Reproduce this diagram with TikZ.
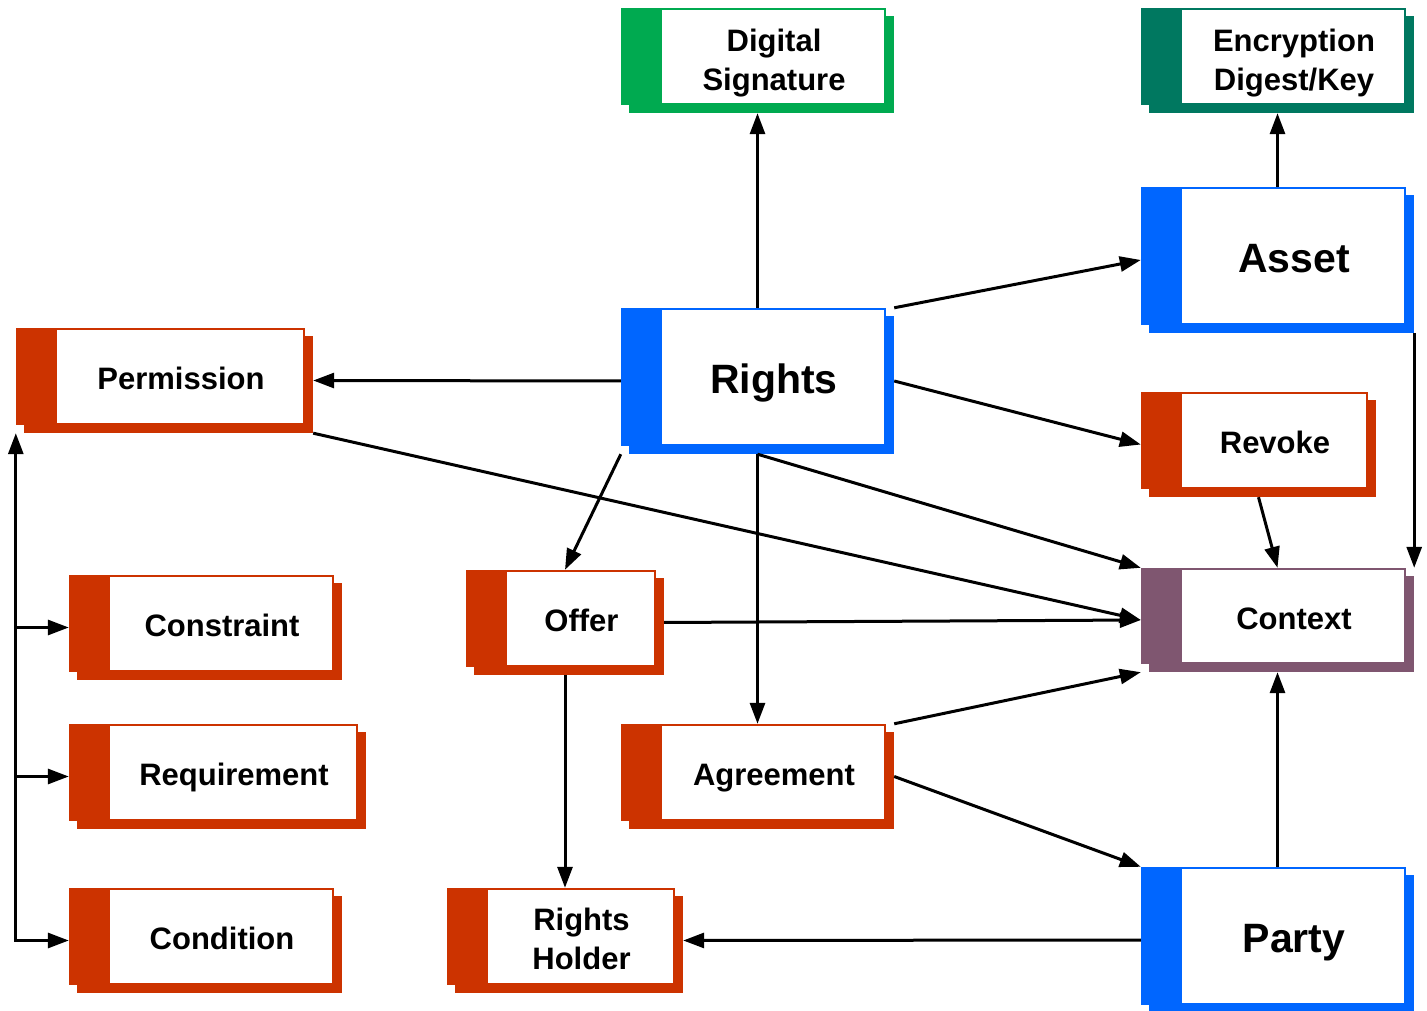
\documentclass[tikz,border=0pt]{standalone}
\usepackage{fontspec}
\setmainfont{Liberation Sans}
\usetikzlibrary{arrows.meta}
\definecolor{odrlblue}{RGB}{0,102,255}
\definecolor{odrlred}{RGB}{204,51,0}
\definecolor{odrlgreen}{RGB}{0,170,80}
\definecolor{odrlteal}{RGB}{0,120,96}
\definecolor{odrlplum}{RGB}{127,86,112}
\tikzset{
  every picture/.style = {
    x = 1pt, y = 1pt,
    >={Triangle[length=21pt, width=15pt]},
  }
  ,
  entity/.style = {
    rectangle,
    inner sep = 0pt,
    path picture = {
      \path (path picture bounding box.north west) coordinate (nw)
            (path picture bounding box.south east) coordinate (se);
      \fill[#1] ([shift={(8pt,-8pt)}]nw) rectangle (se);
      \fill[#1] (nw) rectangle ([shift={(-8pt,8pt)}]se);
      \fill[white] ([shift={(41pt,-2pt)}]nw) rectangle ([shift={(-10pt,10pt)}]se);
    }
  }
  , % names in the boxes
  tag-two/.style = {
    font = \bfseries\fontsize{31}{39}\selectfont,
    align = center,
    xshift = 16.5pt, yshift = 2pt
  }
  ,
  tag/.style = {
    tag-two,
    text height = 22.3pt, text depth = 0pt
  }
  ,
  big-tag/.style = {
    tag,
    font = \bfseries\fontsize{41}{49}\selectfont,
    text height = 29.5pt
  }
  ,
  link/.style = {->, line width = 3pt}
}
\begin{document}
\begin{tikzpicture}
\useasboundingbox (0,0) rectangle (1427,1010);

\node[entity=odrlgreen, minimum width=273pt, minimum height=105pt, label={[tag-two, yshift=-5pt]center:Digital\\Signature}] (sig) at (757.5,949.5) {};
\node[entity=odrlteal, minimum width=273pt, minimum height=105pt, label={[tag-two, yshift=-5pt]center:Encryption\\Digest/Key}] (enc) at (1277.5,949.5) {};
\node[entity=odrlblue, minimum width=273pt, minimum height=146pt, label={[big-tag]center:Asset}] (asset) at (1277.5,750) {};
\node[entity=odrlblue, minimum width=273pt, minimum height=146pt, label={[big-tag]center:Rights}] (rights) at (757.5,629) {};
\node[entity=odrlred, minimum width=297pt, minimum height=105pt, label={[tag]center:Permission}] (perm) at (164.5,629.5) {};
\node[entity=odrlred, minimum width=235pt, minimum height=105pt, label={[tag]center:Revoke}] (revoke) at (1258.5,565.5) {};
\node[entity=odrlplum, minimum width=273pt, minimum height=104pt, label={[tag]center:Context}] (context) at (1277.5,390) {};
\node[entity=odrlred, minimum width=273pt, minimum height=105pt, label={[tag]center:Constraint}] (constraint) at (205.5,382.5) {};
\node[entity=odrlred, minimum width=198pt, minimum height=105pt, label={[tag]center:Offer}] (offer) at (565,387.5) {};
\node[entity=odrlred, minimum width=297pt, minimum height=105pt, label={[tag]center:Requirement}] (requirement) at (217.5,233.5) {};
\node[entity=odrlred, minimum width=273pt, minimum height=105pt, label={[tag]center:Agreement}] (agreement) at (757.5,233.5) {};
\node[entity=odrlred, minimum width=273pt, minimum height=105pt, label={[tag]center:Condition}] (condition) at (205.5,69.5) {};
\node[entity=odrlred, minimum width=236pt, minimum height=105pt, label={[tag-two]center:Rights\\Holder}] (holder) at (565,69.5) {};
\node[entity=odrlblue, minimum width=273pt, minimum height=146pt, label={[big-tag]center:Party}] (party) at (1277.5,70) {};

\draw[link] (rights.north) -- (sig.south);
\draw[link] (asset.north) -- (enc.south);
\draw[link] (rights.north east) -- (asset.west);
\draw[link] (rights.west) -- (perm.east);
\draw[link] (rights.east) -- (revoke.west);
\draw[link] (rights.south west) -- (offer.north);
\draw[link] (rights.south) -- (agreement.north);
\draw[link] (rights.south) -- (context.north west);
\draw[link] (asset.south east) -- (context.north east);
\draw[link] (revoke.south) -- (context.north);
\draw[link] (perm.south east) -- (context.west);
\draw[link] (offer.east) -- (context.west);
\draw[link] (agreement.north east) -- (context.south west);
\draw[link] (agreement.east) -- (party.north west);
\draw[link] (party.north) -- (context.south);
\draw[link] (party.west) -- (holder.east);
\draw[link] (offer.south) -- (holder.north);

\draw[link, <->] (perm.south west) |- (condition.west);
\foreach \n in {constraint, requirement}
  \draw[link] (perm.west |- \n.west) -- (\n.west);
\end{tikzpicture}
\end{document}
